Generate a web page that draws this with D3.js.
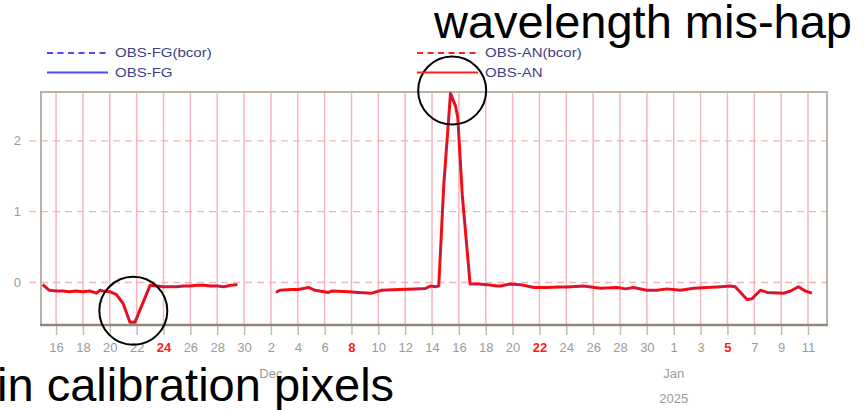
<!DOCTYPE html>
<html>
<head>
<meta charset="utf-8">
<script src="https://cdn.jsdelivr.net/npm/d3@7"></script>
<style>
  body { margin: 0; background: #fff; }
  text { font-family: "Liberation Sans", Arial, sans-serif; }
</style>
</head>
<body>
<div id="chart"></div>
<script>
// observation time (UTC) and departure values read off the plot
// null marks the data gap around 1 Dec
var obsTimes = [
  "2024-11-15T00","2024-11-15T12","2024-11-16T00","2024-11-16T12","2024-11-17T00","2024-11-17T12",
  "2024-11-18T00","2024-11-18T12","2024-11-19T00","2024-11-19T06","2024-11-19T12","2024-11-20T00",
  "2024-11-20T12","2024-11-21T00","2024-11-21T12","2024-11-21T21","2024-11-22T12","2024-11-23T00",
  "2024-11-23T12","2024-11-24T00","2024-11-24T12","2024-11-25T00","2024-11-25T12","2024-11-26T00",
  "2024-11-26T12","2024-11-27T00","2024-11-27T12","2024-11-28T00","2024-11-28T12","2024-11-29T00",
  "2024-11-29T12","2024-12-01T00",
  "2024-12-02T09","2024-12-02T16","2024-12-03T12","2024-12-04T01","2024-12-04T19","2024-12-05T07",
  "2024-12-06T07","2024-12-06T13","2024-12-07T19","2024-12-08T12","2024-12-09T12","2024-12-10T06",
  "2024-12-11T12","2024-12-12T18","2024-12-13T12","2024-12-13T21","2024-12-14T06","2024-12-14T12",
  "2024-12-14T21","2024-12-15T09","2024-12-15T18","2024-12-15T22","2024-12-16T06","2024-12-16T20",
  "2024-12-17T12","2024-12-18T02","2024-12-18T20","2024-12-19T02","2024-12-19T20","2024-12-20T14",
  "2024-12-21T14","2024-12-22T12","2024-12-23T12","2024-12-24T01","2024-12-25T07","2024-12-26T13",
  "2024-12-27T19","2024-12-28T10","2024-12-29T00","2024-12-30T00","2024-12-30T18","2024-12-31T12",
  "2025-01-01T12","2025-01-02T12","2025-01-03T12","2025-01-04T12","2025-01-05T05","2025-01-05T14",
  "2025-01-06T11","2025-01-06T20","2025-01-07T11","2025-01-07T23","2025-01-09T05","2025-01-09T17",
  "2025-01-10T07","2025-01-10T19","2025-01-11T07"
];

var obsAn = [
  -0.03,-0.11,-0.12,-0.12,-0.13,-0.12,
  -0.13,-0.12,-0.15,-0.11,-0.12,-0.13,
  -0.17,-0.30,-0.56,-0.56,-0.27,-0.04,
  -0.05,-0.06,-0.06,-0.06,-0.05,-0.05,
  -0.04,-0.04,-0.05,-0.05,-0.06,-0.04,
  -0.03,null,
  -0.14,-0.11,-0.10,-0.10,-0.07,-0.11,
  -0.14,-0.12,-0.13,-0.14,-0.15,-0.11,
  -0.10,-0.09,-0.085,-0.05,-0.06,-0.05,
  1.38,2.67,2.49,2.33,1.24,-0.02,
  -0.02,-0.03,-0.05,-0.05,-0.02,-0.03,
  -0.07,-0.07,-0.065,-0.065,-0.05,-0.08,
  -0.07,-0.09,-0.07,-0.11,-0.11,-0.09,
  -0.11,-0.08,-0.07,-0.06,-0.05,-0.06,
  -0.24,-0.23,-0.11,-0.14,-0.15,-0.12,
  -0.06,-0.12,-0.15
];

// OBS-FG sits right under OBS-AN in the picture
var obsFg = obsAn.slice();

var yTicks = [0, 1, 2];
var legendLeft = ["OBS-FG(bcor)", "OBS-FG"];
var legendRight = ["OBS-AN(bcor)", "OBS-AN"];
var notes = ["wavelength mis-hap", "in calibration pixels"];

var W = 864, H = 410;
var margin = {top: 92, right: 37, bottom: 85, left: 41},
    width = W - margin.left - margin.right,
    height = H - margin.top - margin.bottom;

var parseTime = d3.utcParse("%Y-%m-%dT%H");
var data = obsTimes.map(function(t, i) {
  return {t: parseTime(t), an: obsAn[i], fg: obsFg[i]};
});

var svg = d3.select("#chart").append("svg")
    .attr("width", W)
    .attr("height", H);

svg.append("rect").attr("width", W).attr("height", H).attr("fill", "#fff");

var g = svg.append("g")
    .attr("transform", "translate(" + margin.left + "," + margin.top + ")");

var x = d3.scaleUtc()
    .domain([parseTime("2024-11-14T21"), parseTime("2025-01-12T10")])
    .range([0, width]);

var y = d3.scaleLinear()
    .domain([-0.6, 2.69])
    .range([height, 0]);

var dayTicks = d3.utcDay.range(parseTime("2024-11-16T00"), parseTime("2025-01-12T00"), 2);

// vertical grid
g.selectAll(".vgrid")
  .data(dayTicks)
  .enter().append("line")
    .attr("x1", function(d) { return x(d); })
    .attr("x2", function(d) { return x(d); })
    .attr("y1", 0)
    .attr("y2", height)
    .attr("stroke", "#f5b5bf")
    .attr("stroke-width", 1.5);

// horizontal dashed grid, starting left of the frame like the ticks
g.selectAll(".hgrid")
  .data(yTicks)
  .enter().append("line")
    .attr("x1", -12)
    .attr("x2", width)
    .attr("y1", function(d) { return y(d); })
    .attr("y2", function(d) { return y(d); })
    .attr("stroke", "#f2b3bc")
    .attr("stroke-width", 1.3)
    .attr("stroke-dasharray", "7,5");

g.selectAll(".ylab")
  .data(yTicks)
  .enter().append("text")
    .attr("x", -20)
    .attr("y", function(d) { return y(d); })
    .attr("dy", "0.35em")
    .attr("text-anchor", "end")
    .attr("font-size", 13)
    .attr("fill", "#9a9a9a")
    .text(function(d) { return d; });

// x axis ticks + labels
var xAxis = g.append("g")
    .attr("transform", "translate(0," + height + ")")
    .call(d3.axisBottom(x)
      .tickValues(dayTicks)
      .tickSize(10)
      .tickPadding(8)
      .tickFormat(d3.utcFormat("%-d")));
xAxis.select(".domain").remove();
xAxis.selectAll(".tick line").attr("stroke", "#bdbdbd").attr("stroke-width", 1.5);
xAxis.selectAll(".tick text")
    .attr("font-family", "Liberation Sans, Arial, sans-serif")
    .attr("font-size", 13)
    .attr("fill", function(d) { return d.getUTCDay() === 0 ? "#ff1a1a" : "#9a9a9a"; })
    .attr("font-weight", function(d) { return d.getUTCDay() === 0 ? "bold" : null; });

// month / year labels under first tick of each month
var monthTicks = dayTicks.filter(function(d) { return d.getUTCDate() <= 2; });
g.selectAll(".mlab")
  .data(monthTicks)
  .enter().append("text")
    .attr("x", function(d) { return x(d); })
    .attr("y", height + 53)
    .attr("text-anchor", "middle")
    .attr("font-size", 13)
    .attr("fill", "#9a9a9a")
    .text(d3.utcFormat("%b"));
g.selectAll(".yrlab")
  .data(monthTicks.filter(function(d) { return d.getUTCMonth() === 0; }))
  .enter().append("text")
    .attr("x", function(d) { return x(d); })
    .attr("y", height + 78)
    .attr("text-anchor", "middle")
    .attr("font-size", 13)
    .attr("fill", "#9a9a9a")
    .text(d3.utcFormat("%Y"));

// frame
g.append("rect")
    .attr("width", width)
    .attr("height", height)
    .attr("fill", "none")
    .attr("stroke", "#bab2a4")
    .attr("stroke-width", 2);
g.append("line")
    .attr("x1", -1).attr("x2", width + 1)
    .attr("y1", height).attr("y2", height)
    .attr("stroke", "#8e877a")
    .attr("stroke-width", 2.5);

// series
var lineAn = d3.line()
    .defined(function(d) { return d.an !== null; })
    .x(function(d) { return x(d.t); })
    .y(function(d) { return y(d.an); });
var lineFg = d3.line()
    .defined(function(d) { return d.fg !== null; })
    .x(function(d) { return x(d.t); })
    .y(function(d) { return y(d.fg); });

g.append("path")
    .datum(data)
    .attr("d", lineAn)
    .attr("fill", "none")
    .attr("stroke", "#ff0d0d")
    .attr("stroke-width", 3)
    .attr("stroke-linejoin", "round");
g.append("path")
    .datum(data)
    .attr("d", lineFg)
    .attr("fill", "none")
    .attr("stroke", "#3030c0")
    .attr("stroke-width", 1)
    .attr("stroke-opacity", 0.35);

// legends (text in the original is drawn a bit wide)
function legend(x0, labels, color) {
  var lg = svg.append("g").attr("transform", "translate(" + x0 + ",0)");
  [53, 72.5].forEach(function(ly, i) {
    lg.append("line")
      .attr("x1", 0).attr("x2", 61)
      .attr("y1", ly).attr("y2", ly)
      .attr("stroke", color)
      .attr("stroke-width", 2)
      .attr("stroke-dasharray", i === 0 ? "6,4.5" : null);
    var t = lg.append("text")
      .attr("x", 68)
      .attr("y", ly + 4)
      .attr("font-size", 12)
      .attr("fill", "#404088")
      .text(labels[i]);
    t.attr("textLength", t.node().getComputedTextLength() * 1.25)
     .attr("lengthAdjust", "spacingAndGlyphs");
  });
}
legend(47, legendLeft, "#4a4aff");
legend(417, legendRight, "#ff2020");

// annotation circles around the dip and the spike
var circles = [
  {t: parseTime("2024-11-21T18"), v: -0.4},
  {t: parseTime("2024-12-15T12"), v: 2.71}
];
g.selectAll(".ring")
  .data(circles)
  .enter().append("circle")
    .attr("cx", function(d) { return x(d.t); })
    .attr("cy", function(d) { return y(d.v); })
    .attr("r", 34)
    .attr("fill", "none")
    .attr("stroke", "#000")
    .attr("stroke-width", 2);

svg.append("text")
    .attr("x", 434)
    .attr("y", 38)
    .attr("font-size", 47)
    .attr("fill", "#000")
    .text(notes[0]);
svg.append("text")
    .attr("x", -3)
    .attr("y", 401)
    .attr("font-size", 47)
    .attr("fill", "#000")
    .text(notes[1]);
</script>
</body>
</html>
